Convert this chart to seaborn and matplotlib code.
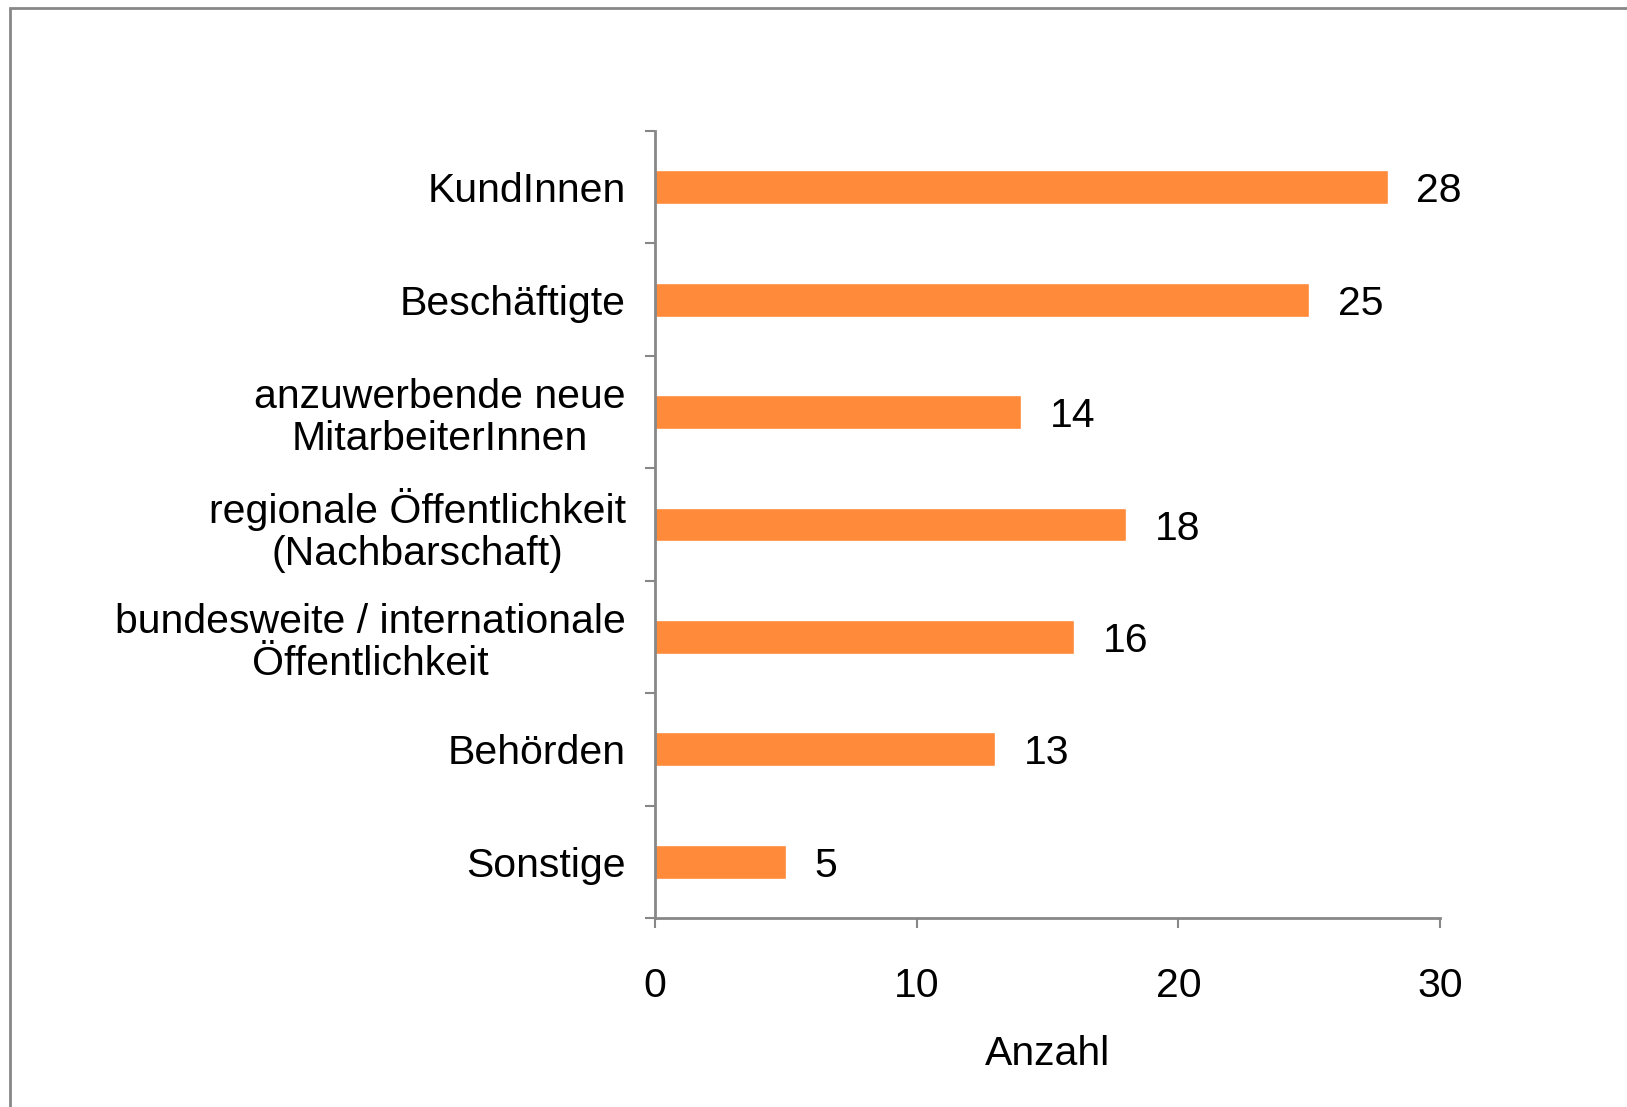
import numpy as np
import pandas as pd
import matplotlib
matplotlib.use("Agg")
import matplotlib.pyplot as plt
from matplotlib.patches import Rectangle
import seaborn as sns

# ─────────────────────────────────────────────
# DATA
# ─────────────────────────────────────────────
categories = [
    "KundInnen",
    "Beschäftigte",
    "anzuwerbende neue\nMitarbeiterInnen",
    "regionale Öffentlichkeit\n(Nachbarschaft)",
    "bundesweite / internationale\nÖffentlichkeit",
    "Behörden",
    "Sonstige",
]
counts = [28, 25, 14, 18, 16, 13, 5]
x_ticks = [0, 10, 20, 30]
x_label = "Anzahl"

BAR_COLOR = "#FF8A3A"
GRAY = "#878787"
FONT_SIZE = 29.5

sns.set_theme(style="white")
plt.rcParams["font.family"] = ["Liberation Sans", "DejaVu Sans"]
plt.rcParams["text.color"] = "black"
plt.rcParams["xtick.labelcolor"] = "black"
plt.rcParams["ytick.labelcolor"] = "black"
plt.rcParams["axes.labelcolor"] = "black"

df = pd.DataFrame({"kategorie": categories, "anzahl": counts})

fig = plt.figure(figsize=(16.27, 11.07), dpi=100)
ax = fig.add_axes([655 / 1627, 1 - 918 / 1107, (1440 - 655) / 1627, (918 - 131) / 1107])

sns.barplot(data=df, x="anzahl", y="kategorie", color=BAR_COLOR, saturation=1,
            width=0.3, orient="h", ax=ax)

# value labels next to bars
for i, v in enumerate(counts):
    ax.text(v + 1.1, i, str(v), va="center_baseline", ha="left", fontsize=FONT_SIZE, color="black")

ax.set_xlim(0, 30)
ax.set_ylim(len(categories) - 0.5, -0.5)
ax.set_xticks(x_ticks)
ax.set_xticklabels([str(t) for t in x_ticks], fontsize=FONT_SIZE, color="black")
ax.set_xlabel(x_label, fontsize=FONT_SIZE, labelpad=22, color="black")
ax.set_ylabel("")

# category labels centered per line, right aligned to the axis
ax.set_yticks(range(len(categories)))
ax.set_yticklabels(categories, fontsize=FONT_SIZE, multialignment="center", linespacing=1.14,
                   color="black")
ax.set_yticks(np.arange(-0.5, len(categories)), minor=True)
ax.tick_params(axis="y", which="major", length=0, pad=21)
ax.tick_params(axis="y", which="minor", length=7, width=1.5, color=GRAY, direction="out", left=True)
ax.tick_params(axis="x", which="major", length=7, width=1.5, color=GRAY, direction="out",
               bottom=True, pad=28)

for side in ["top", "right"]:
    ax.spines[side].set_visible(False)
for side in ["left", "bottom"]:
    ax.spines[side].set_color(GRAY)
    ax.spines[side].set_linewidth(2)

# outer chart frame (only top and left edges are inside the picture)
fig.patches.append(Rectangle((10 / 1627, -0.5), 2, 1.5 - 8 / 1107, transform=fig.transFigure,
                             fill=False, edgecolor=GRAY, linewidth=2))

fig.savefig("out.png", dpi=100)
plt.close(fig)
